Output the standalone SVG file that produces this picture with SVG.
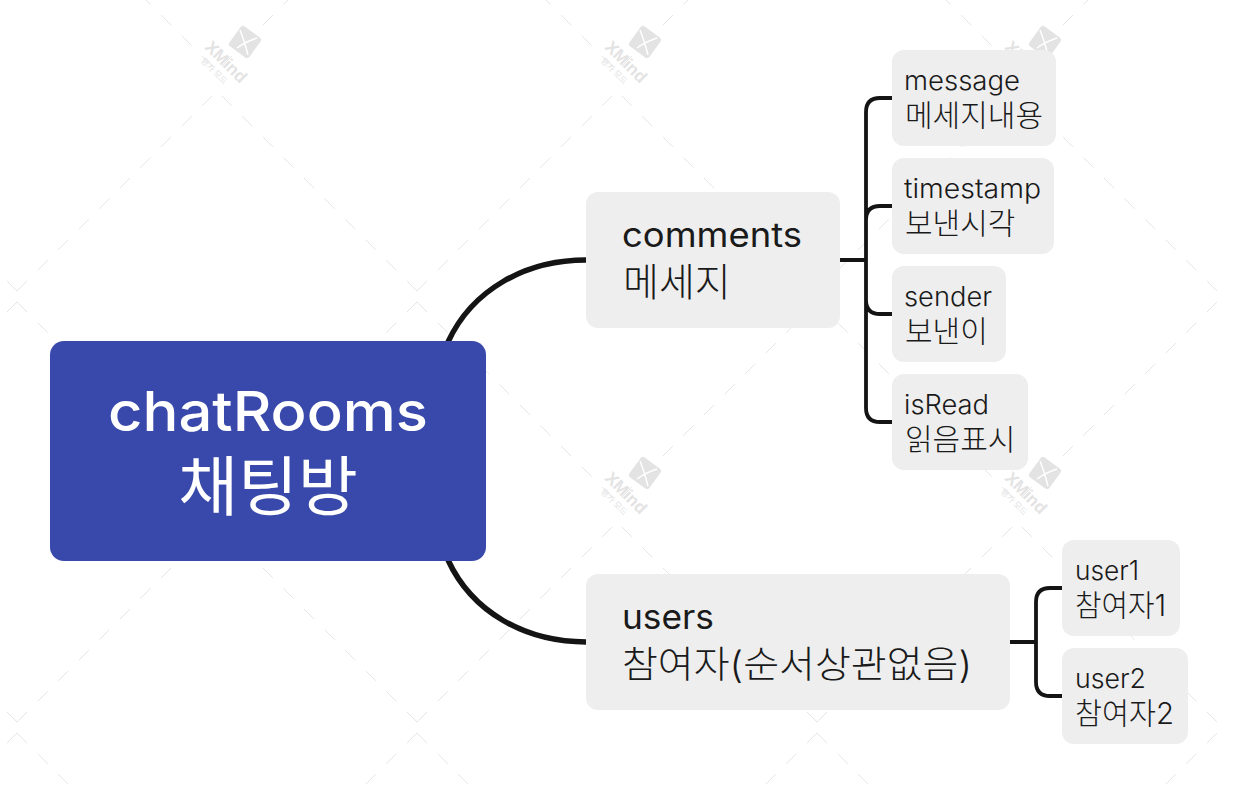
<svg xmlns="http://www.w3.org/2000/svg" width="1238" height="794" viewBox="0 0 1238 794">
<style>
text{font-family:"Inter","Noto Sans CJK KR",sans-serif;fill:#1a1a1a}
.kr{font-family:"Noto Sans CJK KR",sans-serif;font-weight:300}
.mix{font-family:"Inter","Noto Sans CJK KR",sans-serif;font-weight:300}
.bg{fill:#eeeeee}
.w{fill:none;stroke:#e6e6e6;stroke-width:1;stroke-dasharray:14.3 14.8}
.sub{font-size:26.5px;font-weight:300}
.mid{font-size:33.5px;font-weight:400}
.big{font-size:55px;font-weight:500;fill:#fff}
.c1{fill:none;stroke:#141414;stroke-width:5.500}
.c2{fill:none;stroke:#141414;stroke-width:3.800}
</style>
<defs>
<g id="tile">
<path class="w" d="M17 291L217 91M417 291L217 91M17 302L217 502M417 302L217 502"/>
<g transform="translate(245 473)">
<rect x="-12.300" y="-12.300" width="24.600" height="24.600" rx="3" fill="#e3e3e3" transform="rotate(36)"/>
<path d="M-5 -12Q0 0 3 13M-8 6Q0 0 12 -4" fill="none" stroke="#fff" stroke-width="1.500"/>
<text transform="translate(-23 24) rotate(45)" text-anchor="middle" font-size="17" font-weight="700" style="fill:#e3e3e3;font-family:'Liberation Sans',sans-serif">XMind</text>
<text transform="translate(-33 31) rotate(45)" text-anchor="middle" font-size="8.500" style="fill:#e3e3e3;font-family:'Noto Sans CJK KR',sans-serif">평가 모드</text>
</g>
</g>
</defs>
<rect width="1238" height="794" fill="#fff"/>
<g id="watermark">
<use href="#tile" x="-400" y="-431"/><use href="#tile" x="0" y="-431"/><use href="#tile" x="400" y="-431"/><use href="#tile" x="800" y="-431"/>
<use href="#tile" x="-400" y="0"/><use href="#tile" x="0" y="0"/><use href="#tile" x="400" y="0"/><use href="#tile" x="800" y="0"/>
<use href="#tile" x="-400" y="431"/><use href="#tile" x="0" y="431"/><use href="#tile" x="400" y="431"/><use href="#tile" x="800" y="431"/>
</g>
<g id="connectors">
<path class="c1" d="M448 342C472 290 525 260 586 260"/>
<path class="c1" d="M448 560C472 612 525 642 586 642"/>
<path class="c2" d="M840 260H866M892 98H880Q866 98 866 112V408Q866 422 880 422H892M892 206H880Q866 206 866 220M892 314H880Q866 314 866 300"/>
<path class="c2" d="M1010 642H1036M1062 588H1050Q1036 588 1036 602V682Q1036 696 1050 696H1062"/>
</g>
<g id="root"><rect x="50" y="341" width="436" height="220" rx="14" fill="#3949ab"/>
<text class="big" x="108" y="431" textLength="320" lengthAdjust="spacingAndGlyphs">chatRooms</text>
<text class="big kr" x="268" y="510" text-anchor="middle" style="font-weight:400;font-size:65px">채팅방</text></g>
<g id="comments"><rect class="bg" x="586" y="192" width="254" height="136" rx="12"/>
<text class="mid" x="622" y="247" textLength="180" lengthAdjust="spacingAndGlyphs">comments</text>
<text class="kr" x="623" y="296" font-size="39">메세지</text></g>
<g id="users"><rect class="bg" x="586" y="574" width="424" height="136" rx="12"/>
<text class="mid" x="622" y="629" textLength="92" lengthAdjust="spacingAndGlyphs">users</text>
<text class="mix" x="622" y="678" font-size="37" textLength="350" lengthAdjust="spacingAndGlyphs">참여자(순서상관없음)</text></g>
<g id="message"><rect class="bg" x="892" y="50" width="164" height="96" rx="12"/>
<text class="sub" x="904" y="90" textLength="116" lengthAdjust="spacingAndGlyphs">message</text>
<text class="kr" x="905" y="126" font-size="30">메세지내용</text></g>
<g id="timestamp"><rect class="bg" x="892" y="158" width="162" height="96" rx="12"/>
<text class="sub" x="904" y="198" textLength="137" lengthAdjust="spacingAndGlyphs">timestamp</text>
<text class="kr" x="905" y="234" font-size="30">보낸시각</text></g>
<g id="sender"><rect class="bg" x="892" y="266" width="114" height="96" rx="12"/>
<text class="sub" x="904" y="306" textLength="88" lengthAdjust="spacingAndGlyphs">sender</text>
<text class="kr" x="905" y="342" font-size="30">보낸이</text></g>
<g id="isRead"><rect class="bg" x="892" y="374" width="136" height="96" rx="12"/>
<text class="sub" x="904" y="414" textLength="85" lengthAdjust="spacingAndGlyphs">isRead</text>
<text class="kr" x="905" y="450" font-size="30">읽음표시</text></g>
<g id="user1"><rect class="bg" x="1062" y="540" width="118" height="96" rx="12"/>
<text class="sub" x="1075" y="580" textLength="64" lengthAdjust="spacingAndGlyphs">user1</text>
<text class="mix" x="1075" y="616" font-size="30" textLength="91" lengthAdjust="spacingAndGlyphs">참여자1</text></g>
<g id="user2"><rect class="bg" x="1062" y="648" width="126" height="96" rx="12"/>
<text class="sub" x="1075" y="688" textLength="71" lengthAdjust="spacingAndGlyphs">user2</text>
<text class="mix" x="1075" y="724" font-size="30" textLength="99" lengthAdjust="spacingAndGlyphs">참여자2</text></g>
</svg>
